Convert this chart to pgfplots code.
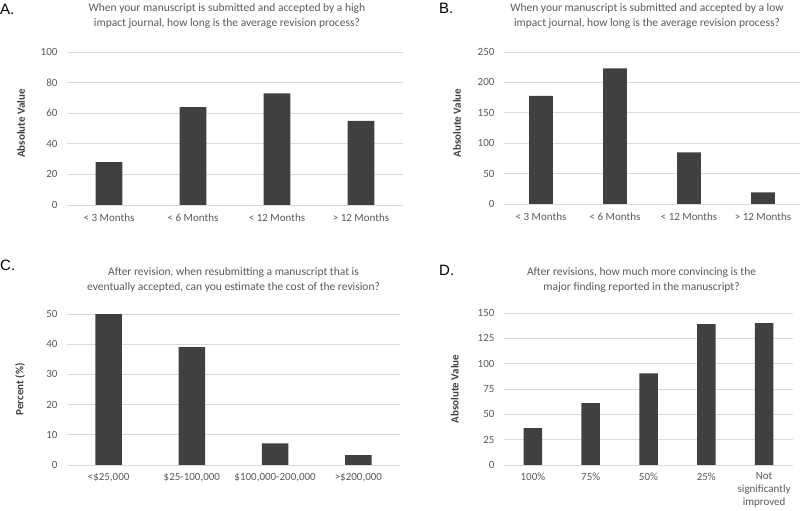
\documentclass[border=0pt]{standalone}
\usepackage{pgfplots}
\pgfplotsset{compat=1.18}
\usepackage{fontspec}
\setmainfont{Carlito}
\newfontfamily\arialfont{Liberation Sans}
\definecolor{barc}{HTML}{404040}
\definecolor{txt}{HTML}{595959}
\definecolor{gridc}{HTML}{D9D9D9}
\newcommand{\ylab}[1]{\bfseries\fontsize{11}{12}\selectfont #1}
\pgfplotsset{
  panel/.style={
    scale only axis,
    anchor=south west,
    axis line style={draw=none},
    major tick length=0pt,
    ymin=0,
    ymajorgrids,
    grid style={gridc, line width=0.9pt},
    xtick=data,
    xmin=-0.5,
    ybar, bar width=0.32,
    tick label style={font=\fontsize{11}{14}\selectfont, text=txt},
    yticklabel style={xshift=-6pt},
    xticklabel style={yshift=-5pt, align=center},
    ylabel style={text=barc, anchor=center},
    title style={font=\fontsize{11.5}{15}\selectfont, text=txt, align=center, anchor=center},
    /pgf/number format/assume math mode=true,
  }
}
\begin{document}
\begin{tikzpicture}
\useasboundingbox (0,0) rectangle (800pt,511pt);
% A
\begin{axis}[panel, at={(67pt,306pt)}, width=336pt, height=153pt,
  ymax=100, ytick={0,20,...,100}, xmax=3.5,
  xticklabels={< 3 Months, < 6 Months, < 12 Months, > 12 Months},
  ylabel={\ylab{Absolute Value}}, ylabel style={at={(axis description cs:-0.137,0.533)}},
  title={When your manuscript is submitted and accepted by a high\\impact journal, how long is the average revision process?},
  title style={at={(axis description cs:0.476,1)}, yshift=30pt}]
\addplot[fill=barc, draw=none] coordinates {(0,28) (1,64) (2,73) (3,55)};
\end{axis}
% B
\begin{axis}[panel, at={(504pt,307pt)}, width=296pt, height=152pt,
  ymax=250, ytick={0,50,...,250}, xmax=3.5,
  xticklabels={< 3 Months, < 6 Months, < 12 Months, > 12 Months},
  ylabel={\ylab{Absolute Value}}, ylabel style={at={(axis description cs:-0.159,0.533)}},
  title={When your manuscript is submitted and accepted by a low\\impact journal, how long is the average revision process?},
  title style={at={(axis description cs:0.483,1)}, yshift=30pt}]
\addplot[fill=barc, draw=none] coordinates {(0,178) (1,223) (2,85) (3,19)};
\end{axis}
% C
\begin{axis}[panel, at={(67pt,46pt)}, width=333pt, height=151pt,
  ymax=50, ytick={0,10,...,50}, xmax=3.5,
  xticklabels={{<\$25,000},{\$25-100,000},{\$100,000-200,000},{>\$200,000}},
  ylabel={\ylab{Percent (\%)}}, ylabel style={at={(axis description cs:-0.141,0.5)}},
  title={After revision, when resubmitting a manuscript that is\\eventually accepted, can you estimate the cost of the revision?},
  title style={at={(axis description cs:0.50,1)}, yshift=28pt}]
\addplot[fill=barc, draw=none] coordinates {(0,50) (1,39) (2,7.2) (3,3.3)};
\end{axis}
% D
\begin{axis}[panel, at={(504pt,46pt)}, width=289pt, height=152pt,
  ymax=150, ytick={0,25,...,150}, xmax=4.5,
  xticklabels={{100\%},{75\%},{50\%},{25\%},{Not\\significantly\\improved}},
  xticklabel style={font=\fontsize{11}{13}\selectfont, yshift=1pt},
  ylabel={\ylab{Absolute Value}}, ylabel style={at={(axis description cs:-0.17,0.5)}},
  title={After revisions, how much more convincing is the\\major finding reported in the manuscript?},
  title style={at={(axis description cs:0.476,1)}, yshift=27pt}]
\addplot[fill=barc, draw=none] coordinates {(0,36.5) (1,61) (2,90.5) (3,139) (4,140)};
\end{axis}
\node[anchor=west, inner sep=0pt, font=\arialfont\fontsize{15}{15}\selectfont] at (0pt,502pt) {A.};
\node[anchor=west, inner sep=0pt, font=\arialfont\fontsize{15}{15}\selectfont] at (439pt,503pt) {B.};
\node[anchor=west, inner sep=0pt, font=\arialfont\fontsize{15}{15}\selectfont] at (0pt,246pt) {C.};
\node[anchor=west, inner sep=0pt, font=\arialfont\fontsize{15}{15}\selectfont] at (439pt,241pt) {D.};
\end{tikzpicture}
\end{document}
